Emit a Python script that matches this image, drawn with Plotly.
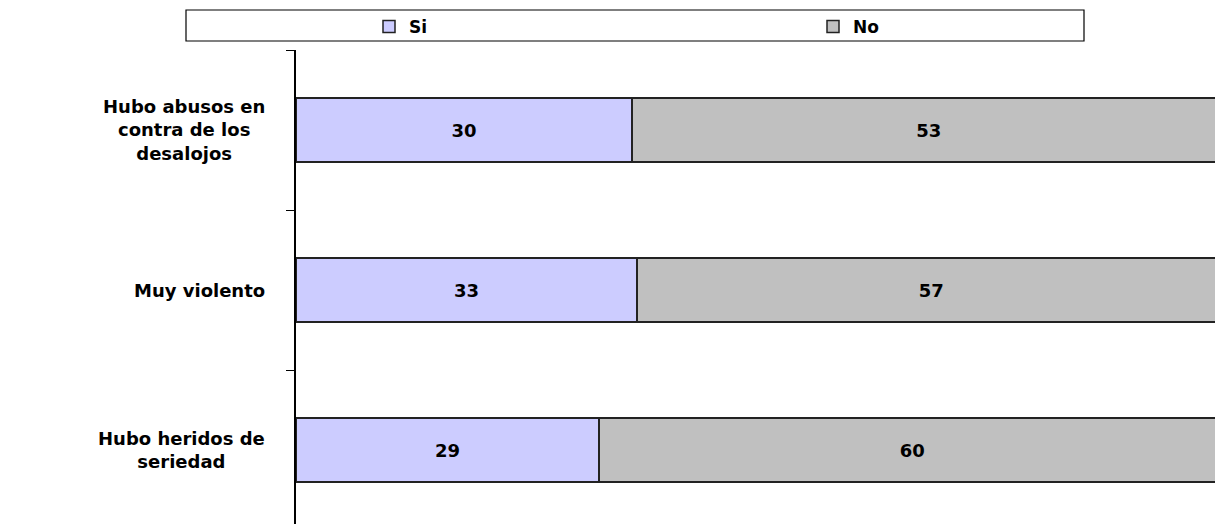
import plotly.graph_objects as go

categories = ["Hubo abusos en<br>contra de los<br>desalojos", "Muy violento", "Hubo heridos de<br>seriedad"]
si_values = [30, 33, 29]
no_values = [53, 57, 60]
series_names = ["Si", "No"]
colors = ["#CCCCFF", "#C0C0C0"]

FONT = "DejaVu Sans"
W, H = 1215, 524

fig = go.Figure()
for name, vals, col, lg in zip(series_names, [si_values, no_values], colors, ["legend", "legend2"]):
    fig.add_trace(go.Bar(
        y=categories, x=vals, name=name, orientation="h",
        width=0.4, legend=lg,
        marker=dict(color=col, line=dict(color="#222222", width=1.5)),
        text=vals, texttemplate="%{text}", textposition="inside",
        insidetextanchor="middle", textangle=0,
        textfont=dict(family=FONT, size=18, color="black", weight="bold"),
        hoverinfo="skip",
    ))

for c in categories:
    fig.add_annotation(
        x=-0.032, xref="paper", y=c, yref="y", text=c, showarrow=False,
        xanchor="right", align="center",
        font=dict(family=FONT, size=18, color="black", weight="bold"),
    )

fig.add_shape(type="rect", xref="paper", yref="paper",
              x0=(186 - 296) / 919, x1=(1084 - 296) / 919,
              y0=(524 - 41) / 474, y1=(524 - 10) / 474,
              line=dict(color="black", width=1.2), fillcolor="rgba(0,0,0,0)")

legend_common = dict(orientation="h", xref="container", yref="container",
                     yanchor="middle", xanchor="left",
                     font=dict(family=FONT, size=17, color="black", weight="bold"),
                     bgcolor="rgba(0,0,0,0)", borderwidth=0)

fig.update_layout(
    width=W, height=H,
    margin=dict(l=296, r=0, t=50, b=0, pad=0),
    paper_bgcolor="white", plot_bgcolor="white",
    barmode="stack", barnorm="percent",
    showlegend=True,
    legend=dict(x=369 / W, y=1 - 27 / H, **legend_common),
    legend2=dict(x=813 / W, y=1 - 27 / H, **legend_common),
    xaxis=dict(range=[0, 98.85], showgrid=False, zeroline=False, showticklabels=False,
               ticks="", showline=False, fixedrange=True),
    yaxis=dict(range=[2.4625, -0.5], showgrid=False, zeroline=False,
               showticklabels=False, ticks="outside", ticklen=8, tickwidth=1.2,
               tickcolor="black", tickson="boundaries",
               showline=True, linecolor="black", linewidth=1.5,
               categoryorder="array", categoryarray=categories),
)

post = ("document.body.style.margin='0';document.body.style.overflow='hidden';"
        "var d=document.getElementById('{plot_id}');"
        "d.style.position='fixed';d.style.top='0px';d.style.left='0px';")

fig.write_html("out.html", post_script=post, config={"displayModeBar": False})
